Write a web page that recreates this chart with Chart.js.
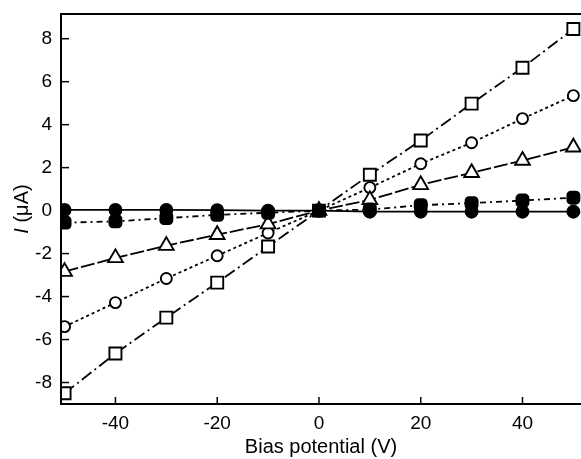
<!DOCTYPE html>
<html>
<head>
<meta charset="utf-8">
<script src="https://cdn.jsdelivr.net/npm/chart.js@4.4.1/dist/chart.umd.min.js"></script>
<style>
  html, body { margin: 0; padding: 0; background: #fff; }
  #wrap { width: 581px; height: 459px; position: relative; }
</style>
</head>
<body>
<div id="wrap"><canvas id="ivChart"></canvas></div>
<script>
// Bias potential (V) for every series
const voltages = [-50, -40, -30, -20, -10, 0, 10, 20, 30, 40, 50];
// Current (uA), one list per marker type
const openSquares = [-8.5, -6.65, -4.98, -3.35, -1.67, 0, 1.67, 3.26, 4.98, 6.65, 8.45];
const openCircles = [-5.4, -4.28, -3.16, -2.1, -1.04, 0, 1.07, 2.18, 3.16, 4.28, 5.35];
const openTriangles = [-2.84, -2.2, -1.63, -1.12, -0.63, 0, 0.5, 1.2, 1.76, 2.33, 2.95];
const filledSquares = [-0.56, -0.5, -0.35, -0.2, -0.1, 0, 0.05, 0.25, 0.35, 0.47, 0.6];
const filledCircles = [0.03, 0.03, 0.03, 0.02, 0, 0, -0.05, -0.05, -0.05, -0.05, -0.05];

const xTicks = [-40, -20, 0, 20, 40];
const yTicks = [-8, -6, -4, -2, 0, 2, 4, 6, 8];

const fontFamily = '"Liberation Sans", Arial, sans-serif';

// Turn the two lists into {x, y} points
function toPoints(values) {
    return voltages.map((v, i) => ({ x: v, y: values[i] }));
}

function makeSeries(values, style, radius, filled, dash) {
    return {
        data: toPoints(values),
        showLine: true,
        borderColor: '#000',
        borderWidth: 1.8,
        borderDash: dash,
        pointStyle: style,
        pointRadius: radius,
        pointBorderWidth: 1.9,
        pointBorderColor: '#000',
        pointBackgroundColor: filled ? '#000' : '#fff',
    };
}

// Inward tick marks, the frame and the y title (italic I)
const framePlugin = {
    id: 'frame',
    afterDraw(chart) {
        const { ctx, chartArea, scales } = chart;
        ctx.save();
        ctx.strokeStyle = '#000';
        ctx.lineWidth = 2;
        ctx.beginPath();
        ctx.moveTo(chartArea.right, chartArea.top);
        ctx.lineTo(chartArea.left, chartArea.top);
        ctx.lineTo(chartArea.left, chartArea.bottom);
        ctx.lineTo(chartArea.right, chartArea.bottom);
        ctx.stroke();
        ctx.lineWidth = 1.5;
        yTicks.forEach(t => {
            const y = scales.y.getPixelForValue(t);
            ctx.beginPath();
            ctx.moveTo(chartArea.left, y);
            ctx.lineTo(chartArea.left + 8, y);
            ctx.stroke();
        });
        xTicks.forEach(t => {
            const x = scales.x.getPixelForValue(t);
            ctx.beginPath();
            ctx.moveTo(x, chartArea.bottom);
            ctx.lineTo(x, chartArea.bottom - 7);
            ctx.stroke();
        });
        // y axis title
        ctx.translate(22, (chartArea.top + chartArea.bottom) / 2);
        ctx.rotate(-Math.PI / 2);
        ctx.fillStyle = '#000';
        ctx.textBaseline = 'middle';
        const italic = 'italic 20px ' + fontFamily;
        const normal = '20px ' + fontFamily;
        ctx.font = italic;
        const w1 = ctx.measureText('I').width;
        ctx.font = normal;
        const w2 = ctx.measureText(' (μA)').width;
        const start = -(w1 + w2) / 2;
        ctx.font = italic;
        ctx.textAlign = 'left';
        ctx.fillText('I', start, 0);
        ctx.font = normal;
        ctx.fillText(' (μA)', start + w1, 0);
        ctx.restore();
    }
};

const ctx = document.getElementById('ivChart').getContext('2d');
new Chart(ctx, {
    type: 'scatter',
    data: {
        datasets: [
            makeSeries(filledCircles, 'circle', 6, true, []),
            makeSeries(filledSquares, 'rectRounded', 7, true, [6, 4, 2, 4]),
            makeSeries(openTriangles, 'triangle', 8.5, false, [14, 3]),
            makeSeries(openCircles, 'circle', 5.5, false, [3, 3]),
            makeSeries(openSquares, 'rect', 8.5, false, [12, 4, 2, 4]),
        ],
    },
    options: {
        responsive: true,
        maintainAspectRatio: false,
        animation: false,
        layout: { autoPadding: false, padding: { top: 14, right: 0, left: 0, bottom: 0 } },
        plugins: {
            legend: { display: false },
            tooltip: { enabled: false },
        },
        scales: {
            x: {
                type: 'linear',
                min: -50.7,
                max: 51.5,
                afterFit: (scale) => {
                    scale.height = 55;
                    scale.paddingLeft = 0;
                    scale.paddingRight = 0;
                },
                afterBuildTicks: (scale) => { scale.ticks = xTicks.map(v => ({ value: v })); },
                grid: { display: false, drawTicks: false },
                border: { display: false },
                ticks: { color: '#000', padding: 8, font: { family: fontFamily, size: 19 } },
                title: {
                    display: true,
                    text: 'Bias potential (V)',
                    color: '#000',
                    padding: { top: 1, bottom: 0 },
                    font: { family: fontFamily, size: 20 },
                },
            },
            y: {
                type: 'linear',
                min: -9,
                max: 9.15,
                afterFit: (scale) => {
                    scale.width = 61;
                    scale.paddingTop = 0;
                    scale.paddingBottom = 0;
                },
                afterBuildTicks: (scale) => { scale.ticks = yTicks.map(v => ({ value: v })); },
                grid: { display: false, drawTicks: false },
                border: { display: false },
                ticks: { color: '#000', padding: 9, font: { family: fontFamily, size: 19 } },
            },
        },
    },
    plugins: [framePlugin],
});
</script>
</body>
</html>
